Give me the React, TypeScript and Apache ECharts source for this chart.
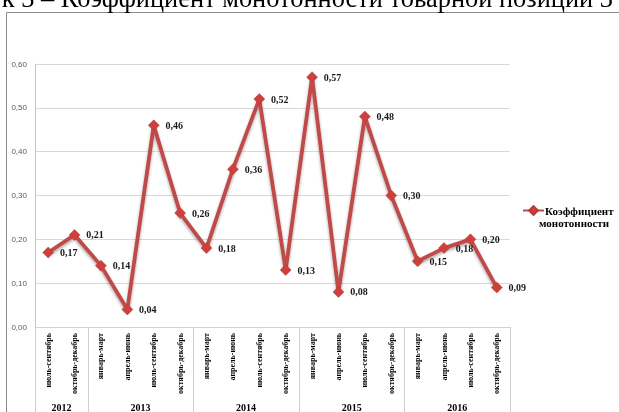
import React, { useEffect, useRef } from "react";
import * as echarts from "echarts";

const categories = [
  "июль-сентябрь", "октябрь-декабрь",
  "январь-март", "апрель-июнь", "июль-сентябрь", "октябрь-декабрь",
  "январь-март", "апрель-июнь", "июль-сентябрь", "октябрь-декабрь",
  "январь-март", "апрель-июнь", "июль-сентябрь", "октябрь-декабрь",
  "январь-март", "апрель-июнь", "июль-сентябрь", "октябрь-декабрь",
];
const years = ["2012", "2013", "2014", "2015", "2016"];
const yearSpans = [2, 4, 4, 4, 4];
const values = [0.17, 0.21, 0.14, 0.04, 0.46, 0.26, 0.18, 0.36, 0.52, 0.13, 0.57, 0.08, 0.48, 0.30, 0.15, 0.18, 0.20, 0.09];
const seriesName = "Коэффициент монотонности";
const legendLines = ["Коэффициент", "монотонности"];
const titleText = "к 3 – Коэффициент монотонности товарной позиции 3";

const fmt = (v: number) => v.toFixed(2).replace(".", ",");
const SERIF = "'Liberation Serif', 'Times New Roman', serif";

export default function App() {
  const ref = useRef<HTMLDivElement>(null);
  useEffect(() => {
    const chart = echarts.init(ref.current!, null, { renderer: "svg" });
    chart.setOption({
      animation: false,
      grid: { left: 35, top: 64, right: 109, bottom: 85 },
      xAxis: {
        type: "category",
        data: categories,
        boundaryGap: true,
        axisLine: { show: true, lineStyle: { color: "#d4d4d4", width: 1 } },
        axisTick: { show: false },
        axisLabel: {
          interval: 0,
          rotate: 90,
          margin: 6,
          fontFamily: SERIF,
          fontWeight: "bold",
          fontSize: 8,
          color: "#000",
        },
      },
      yAxis: {
        type: "value",
        min: 0,
        max: 0.6,
        interval: 0.1,
        axisLine: { show: true, lineStyle: { color: "#c4c4c4", width: 1 } },
        axisTick: { show: false },
        splitLine: { show: true, lineStyle: { color: "#d9d9d9", width: 1 } },
        axisLabel: {
          formatter: (v: number) => fmt(v),
          margin: 8,
          fontFamily: "'Liberation Sans', Arial, sans-serif",
          fontSize: 8,
          color: "#595959",
        },
      },
      legend: {
        show: true,
        left: 522,
        top: 205,
        padding: 0,
        itemWidth: 21,
        itemHeight: 11,
        textStyle: {
          fontFamily: SERIF,
          fontWeight: "bold",
          fontSize: 11,
          color: "#000",
          padding: [12, 0, 0, -10],
          rich: {
            a: { fontFamily: SERIF, fontWeight: "bold", fontSize: 11, lineHeight: 12, color: "#000", padding: [0, 0, 0, 6] },
            b: { fontFamily: SERIF, fontWeight: "bold", fontSize: 11, lineHeight: 12, color: "#000" },
          },
        },
        formatter: () => "{a|" + legendLines[0] + "}\n{b|" + legendLines[1] + "}",
      },
      series: [
        {
          name: seriesName,
          type: "line",
          data: values,
          symbol: "diamond",
          symbolSize: 11,
          lineStyle: {
            color: "#be4b48",
            width: 3.8,
            shadowColor: "rgba(0,0,0,0.35)",
            shadowBlur: 3,
            shadowOffsetY: 2,
          },
          itemStyle: { color: "#cf3f3b", borderColor: "#b53a36", borderWidth: 0.5 },
          label: {
            show: true,
            position: "right",
            distance: 6,
            formatter: (p: any) => fmt(p.value),
            fontFamily: SERIF,
            fontWeight: "bold",
            fontSize: 10,
            color: "#1a1a1a",
          },
        },
      ],
    });

    const px = (i: number) => chart.convertToPixel({ xAxisIndex: 0 }, i) as number;
    const bw = px(1) - px(0);
    const boundary = (k: number) => (k < categories.length ? px(k) - bw / 2 : px(categories.length - 1) + bw / 2);
    const yBase = chart.convertToPixel({ yAxisIndex: 0 }, 0) as number;

    const elements: any[] = [
      {
        type: "rect",
        z: -1,
        shape: { x: 6.5, y: 12.5, width: 700, height: 500 },
        style: { fill: "transparent", stroke: "#8a8a8a", lineWidth: 1 },
        silent: true,
      },
      {
        type: "text",
        style: {
          text: titleText,
          x: 613,
          y: -2,
          textAlign: "right",
          textVerticalAlign: "middle",
          font: "26.4px " + SERIF,
          fill: "#000",
        },
        silent: true,
      },
    ];
    let start = 0;
    const bounds = [0];
    yearSpans.forEach((s) => {
      start += s;
      bounds.push(start);
    });
    bounds.forEach((k) => {
      const x = Math.round(boundary(k)) + 0.5;
      elements.push({
        type: "line",
        shape: { x1: x, y1: yBase, x2: x, y2: 412 },
        style: { stroke: "#d0d0d0", lineWidth: 1 },
        silent: true,
      });
    });
    years.forEach((y, i) => {
      const cx = (boundary(bounds[i]) + boundary(bounds[i + 1])) / 2;
      elements.push({
        type: "text",
        style: {
          text: y,
          x: cx,
          y: 407,
          textAlign: "center",
          textVerticalAlign: "middle",
          font: "bold 10px " + SERIF,
          fill: "#000",
        },
        silent: true,
      });
    });
    chart.setOption({ graphic: { elements } });
    return () => chart.dispose();
  }, []);
  return <div ref={ref} style={{ position: "fixed", left: 0, top: 0, width: 619, height: 412 }} />;
}
